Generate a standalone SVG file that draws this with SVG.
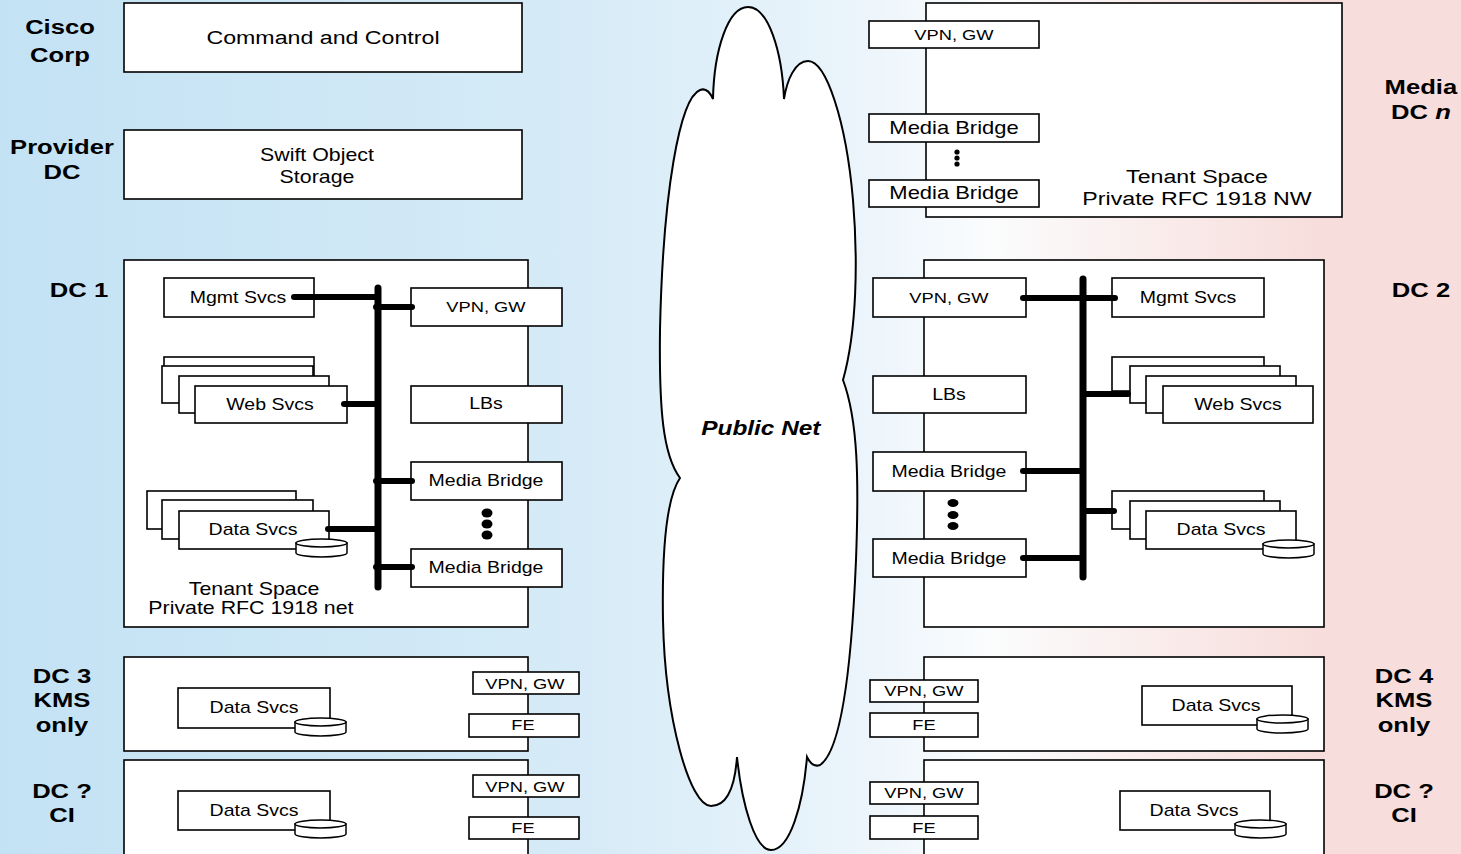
<svg xmlns="http://www.w3.org/2000/svg" width="1461" height="854" viewBox="0 0 1461 854">
<defs>
<linearGradient id="bg" x1="0" y1="0" x2="1461" y2="0" gradientUnits="userSpaceOnUse">
<stop offset="0" stop-color="#c3e2f4"/>
<stop offset="0.40" stop-color="#d6ebf7"/>
<stop offset="0.58" stop-color="#eaf4fb"/>
<stop offset="0.68" stop-color="#fbfcfd"/>
<stop offset="0.80" stop-color="#f9ebea"/>
<stop offset="0.90" stop-color="#f7dedc"/>
<stop offset="1" stop-color="#f7dddb"/>
</linearGradient>
<g id="cyl">
<path d="M0,4 V14 A25.5,4 0 0 0 51,14 V4 Z" fill="#fff" stroke="#000" stroke-width="1.5"/>
<ellipse cx="25.5" cy="4" rx="25.5" ry="4" fill="#fff" stroke="#000" stroke-width="1.5"/>
</g>
</defs>
<style>
.box{fill:#fff;stroke:#000;stroke-width:1.6}
.t{font-family:"Liberation Sans",Arial,sans-serif;text-anchor:middle;dominant-baseline:central;fill:#000;transform-box:fill-box;transform-origin:center;transform:scaleX(1.22)}
.lbl{font-weight:bold;font-size:21px}
.s15{font-size:15px}
.s16{font-size:16px}
.s18{font-size:18px}
.link{stroke:#000;stroke-width:6;stroke-linecap:round;fill:none}
.bus{stroke:#000;stroke-width:7;stroke-linecap:round;fill:none}
</style>
<rect x="0" y="0" width="1461" height="854" fill="url(#bg)"/>

<g id="public-net">
<path d="M713,99 C709,90 705,88 700,90 C680,98 663,190 660,330 C659,410 663,455 680,478 C665,500 662,560 663,620 C665,720 690,806 711,806 C728,806 735,785 737,757 C742,805 755,850 771,850 C790,850 803,805 807,757 C811,765 815,767 820,765 C840,752 851,680 856,560 C859,480 858,420 843,380 C857,330 858,260 853,200 C846,120 826,61 808,61 C795,61 787,80 784,99 C782,50 768,7 748,7 C728,7 714,50 713,99 Z" fill="#fff" stroke="#000" stroke-width="2"/>
<text class="t" x="761" y="428" style="font-size:20px;font-weight:bold;font-style:italic">Public Net</text>
</g>

<g id="label-cisco-corp"><text class="t lbl" x="60" y="27">Cisco</text><text class="t lbl" x="60" y="55">Corp</text></g>
<g id="label-provider-dc"><text class="t lbl" x="62" y="147">Provider</text><text class="t lbl" x="62" y="172">DC</text></g>
<g id="label-dc1"><text class="t lbl" x="79" y="290">DC 1</text></g>
<g id="label-dc3"><text class="t lbl" x="62" y="676">DC 3</text><text class="t lbl" x="62" y="700">KMS</text><text class="t lbl" x="62" y="725">only</text></g>
<g id="label-dc-ci-left"><text class="t lbl" x="62" y="791">DC ?</text><text class="t lbl" x="62" y="815">CI</text></g>
<g id="label-media-dc-n"><text class="t lbl" x="1421" y="87">Media</text><text class="t lbl" x="1421" y="112">DC <tspan font-style="italic">n</tspan></text></g>
<g id="label-dc2"><text class="t lbl" x="1421" y="290">DC 2</text></g>
<g id="label-dc4"><text class="t lbl" x="1404" y="676">DC 4</text><text class="t lbl" x="1404" y="700">KMS</text><text class="t lbl" x="1404" y="725">only</text></g>
<g id="label-dc-ci-right"><text class="t lbl" x="1404" y="791">DC ?</text><text class="t lbl" x="1404" y="815">CI</text></g>

<g id="command-control">
<rect class="box" x="124" y="3" width="398" height="69"/>
<text class="t" x="323" y="37" style="font-size:19px">Command and Control</text>
</g>
<g id="swift-storage">
<rect class="box" x="124" y="130" width="398" height="69"/>
<text class="t" x="317" y="155" style="font-size:17.5px">Swift Object</text>
<text class="t" x="317" y="177" style="font-size:17.5px">Storage</text>
</g>

<g id="dc1">
<rect class="box" x="124" y="260" width="404" height="367"/>
<text class="t" x="254" y="589" style="font-size:17.5px">Tenant Space</text>
<text class="t" x="251" y="608" style="font-size:17.5px">Private RFC 1918 net</text>
<g id="dc1-mgmt"><rect class="box" x="164" y="278" width="150" height="39"/><text class="t s16" x="238" y="298">Mgmt Svcs</text></g>
<g id="dc1-vpn"><rect class="box" x="411" y="288" width="151" height="38"/><text class="t s15" x="486" y="307">VPN, GW</text></g>
<g id="dc1-web">
<rect class="box" x="164" y="357" width="150" height="38"/>
<rect class="box" x="162" y="366" width="151" height="37"/>
<rect class="box" x="179" y="376" width="150" height="37"/>
<rect class="box" x="195" y="386" width="152" height="37"/>
<text class="t s16" x="270" y="405">Web Svcs</text>
</g>
<g id="dc1-lbs"><rect class="box" x="411" y="386" width="151" height="37"/><text class="t s16" x="486" y="404">LBs</text></g>
<g id="dc1-data">
<rect class="box" x="147" y="491" width="149" height="38"/>
<rect class="box" x="162" y="500" width="151" height="39"/>
<rect class="box" x="179" y="511" width="150" height="38"/>
<text class="t s16" x="253" y="530">Data Svcs</text>
<use href="#cyl" x="296" y="539"/>
</g>
<g id="dc1-mb1"><rect class="box" x="411" y="462" width="151" height="38"/><text class="t s16" x="486" y="481">Media Bridge</text></g>
<g id="dc1-dots"><ellipse cx="487" cy="513" rx="5.5" ry="4.5"/><ellipse cx="487" cy="524" rx="5.5" ry="4.5"/><ellipse cx="487" cy="535" rx="5.5" ry="4.5"/></g>
<g id="dc1-mb2"><rect class="box" x="411" y="549" width="151" height="38"/><text class="t s16" x="486" y="568">Media Bridge</text></g>
</g>

<g id="dc3">
<rect class="box" x="124" y="657" width="404" height="94"/>
<g id="dc3-data"><rect class="box" x="178" y="688" width="152" height="40"/><text class="t s16" x="254" y="708">Data Svcs</text><use href="#cyl" x="295" y="718"/></g>
<g id="dc3-vpn"><rect class="box" x="473" y="672" width="106" height="22"/><text class="t s15" x="525" y="684">VPN, GW</text></g>
<g id="dc3-fe"><rect class="box" x="469" y="714" width="110" height="23"/><text class="t s15" x="523" y="725">FE</text></g>
</g>

<g id="dc-ci-left">
<rect class="box" x="124" y="760" width="404" height="100"/>
<g id="dcl-data"><rect class="box" x="178" y="791" width="152" height="39"/><text class="t s16" x="254" y="811">Data Svcs</text><use href="#cyl" x="295" y="820"/></g>
<g id="dcl-vpn"><rect class="box" x="473" y="775" width="106" height="22"/><text class="t s15" x="525" y="787">VPN, GW</text></g>
<g id="dcl-fe"><rect class="box" x="469" y="817" width="110" height="22"/><text class="t s15" x="523" y="828">FE</text></g>
</g>

<g id="media-dc-n">
<rect class="box" x="926" y="3" width="416" height="214"/>
<text class="t" x="1197" y="176" style="font-size:19px">Tenant Space</text>
<text class="t" x="1197" y="198" style="font-size:19px">Private RFC 1918 NW</text>
<g id="mdc-vpn"><rect class="box" x="869" y="21" width="170" height="27"/><text class="t s15" x="954" y="35">VPN, GW</text></g>
<g id="mdc-mb1"><rect class="box" x="869" y="114" width="170" height="28"/><text class="t s18" x="954" y="128">Media Bridge</text></g>
<g id="mdc-dots"><circle cx="957" cy="152" r="2.6"/><circle cx="957" cy="158" r="2.6"/><circle cx="957" cy="164" r="2.6"/></g>
<g id="mdc-mb2"><rect class="box" x="869" y="180" width="170" height="27"/><text class="t s18" x="954" y="193">Media Bridge</text></g>
</g>

<g id="dc2">
<rect class="box" x="924" y="260" width="400" height="367"/>
<g id="dc2-vpn"><rect class="box" x="873" y="278" width="153" height="39"/><text class="t s15" x="949" y="298">VPN, GW</text></g>
<g id="dc2-mgmt"><rect class="box" x="1112" y="278" width="152" height="39"/><text class="t s16" x="1188" y="298">Mgmt Svcs</text></g>
<g id="dc2-lbs"><rect class="box" x="873" y="376" width="153" height="37"/><text class="t s16" x="949" y="395">LBs</text></g>
<g id="dc2-web">
<rect class="box" x="1112" y="357" width="152" height="34"/>
<rect class="box" x="1130" y="366" width="150" height="37"/>
<rect class="box" x="1146" y="376" width="150" height="37"/>
<rect class="box" x="1163" y="386" width="150" height="37"/>
<text class="t s16" x="1238" y="405">Web Svcs</text>
</g>
<g id="dc2-mb1"><rect class="box" x="873" y="452" width="153" height="39"/><text class="t s16" x="949" y="472">Media Bridge</text></g>
<g id="dc2-dots"><ellipse cx="953" cy="503" rx="5.5" ry="4"/><ellipse cx="953" cy="515" rx="5.5" ry="4"/><ellipse cx="953" cy="526" rx="5.5" ry="4"/></g>
<g id="dc2-mb2"><rect class="box" x="873" y="539" width="153" height="38"/><text class="t s16" x="949" y="559">Media Bridge</text></g>
<g id="dc2-data">
<rect class="box" x="1112" y="491" width="152" height="38"/>
<rect class="box" x="1130" y="501" width="150" height="38"/>
<rect class="box" x="1146" y="511" width="150" height="38"/>
<text class="t s16" x="1221" y="530">Data Svcs</text>
<use href="#cyl" x="1263" y="540"/>
</g>
</g>

<g id="dc4">
<rect class="box" x="924" y="657" width="400" height="94"/>
<g id="dc4-data"><rect class="box" x="1142" y="686" width="150" height="39"/><text class="t s16" x="1216" y="706">Data Svcs</text><use href="#cyl" x="1257" y="715"/></g>
<g id="dc4-vpn"><rect class="box" x="870" y="680" width="108" height="22"/><text class="t s15" x="924" y="691">VPN, GW</text></g>
<g id="dc4-fe"><rect class="box" x="870" y="713" width="108" height="24"/><text class="t s15" x="924" y="725">FE</text></g>
</g>

<g id="dc-ci-right">
<rect class="box" x="924" y="760" width="400" height="100"/>
<g id="dcr-data"><rect class="box" x="1120" y="791" width="150" height="39"/><text class="t s16" x="1194" y="811">Data Svcs</text><use href="#cyl" x="1235" y="820"/></g>
<g id="dcr-vpn"><rect class="box" x="870" y="782" width="108" height="22"/><text class="t s15" x="924" y="793">VPN, GW</text></g>
<g id="dcr-fe"><rect class="box" x="870" y="816" width="108" height="23"/><text class="t s15" x="924" y="828">FE</text></g>
</g>

<g id="connectors">
<line class="bus" x1="378" y1="288" x2="378" y2="587"/>
<line class="link" x1="294" y1="297" x2="378" y2="297"/>
<line class="link" x1="376" y1="307" x2="412" y2="307"/>
<line class="link" x1="344" y1="404" x2="378" y2="404"/>
<line class="link" x1="376" y1="481" x2="412" y2="481"/>
<line class="link" x1="328" y1="529" x2="378" y2="529"/>
<line class="link" x1="376" y1="567" x2="412" y2="567"/>
<line class="bus" x1="1083" y1="279" x2="1083" y2="577"/>
<line class="link" x1="1023" y1="298" x2="1115" y2="298"/>
<line class="link" x1="1083" y1="394" x2="1128" y2="394"/>
<line class="link" x1="1023" y1="471" x2="1083" y2="471"/>
<line class="link" x1="1083" y1="511" x2="1114" y2="511"/>
<line class="link" x1="1023" y1="558" x2="1083" y2="558"/>
</g>
</svg>
